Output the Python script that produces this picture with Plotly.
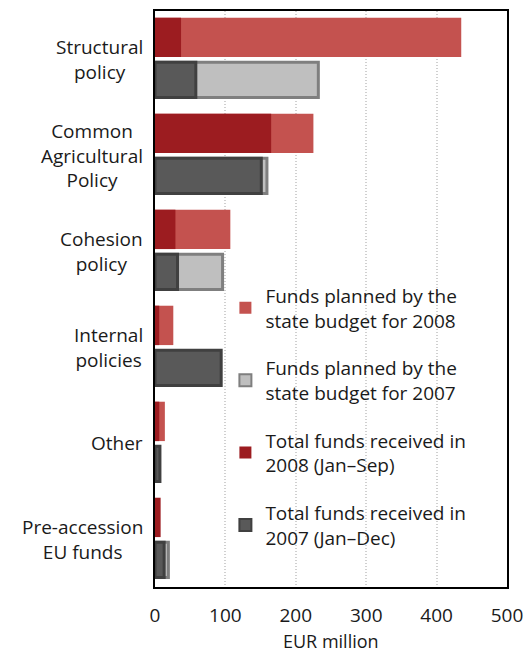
import plotly.graph_objects as go

# EU funds flows by policy area, EUR million
categories = ["Structural policy", "Common Agricultural Policy", "Cohesion policy",
              "Internal policies", "Other", "Pre-accession EU funds"]
category_labels = ["Structural<br>policy", "Common<br>Agricultural<br>Policy", "Cohesion<br>policy",
                   "Internal<br>policies", "Other", "Pre-accession<br>EU funds"]

planned_2008 = [435, 225, 107, 26, 14, 0]
planned_2007 = [232, 159, 96, 0, 0, 19]
received_2008 = [37, 165, 29, 6, 6, 8]
received_2007 = [58, 151, 32, 94, 7, 13]

x_ticks = [0, 100, 200, 300, 400, 500]
x_title = "EUR million"

FONT = "Open Sans"
FS = 19
TEXT = "#1a1a1a"
RED_LIGHT = "#C4524F"
RED_DARK = "#9C1C20"
GREY_LIGHT = "#BFBFBF"
GREY_LIGHT_LINE = "#7F7F7F"
GREY_DARK = "#595959"
GREY_DARK_LINE = "#404040"

# row layout inside each category slot: 2008 on top, 2007 below
OFF_2008, W_2008 = -0.43, 0.41
OFF_2007, W_2007 = 0.035, 0.365

fig = go.Figure()

fig.add_trace(go.Bar(
    y=categories, x=planned_2008, orientation="h",
    name="Funds planned by the<br>state budget for 2008",
    marker=dict(color=RED_LIGHT, line=dict(width=0)),
    offset=OFF_2008, width=W_2008, legendgroup="a",
))
fig.add_trace(go.Bar(
    y=categories, x=planned_2007, orientation="h",
    name="Funds planned by the<br>state budget for 2007",
    marker=dict(color=GREY_LIGHT, line=dict(color=GREY_LIGHT_LINE, width=3)),
    offset=OFF_2007, width=W_2007, legendgroup="b",
))
fig.add_trace(go.Bar(
    y=categories, x=received_2008, orientation="h",
    name="Total funds received in<br>2008 (Jan\u2013Sep)",
    marker=dict(color=RED_DARK, line=dict(width=0)),
    offset=OFF_2008, width=W_2008, legendgroup="c",
))
fig.add_trace(go.Bar(
    y=categories, x=received_2007, orientation="h",
    name="Total funds received in<br>2007 (Jan\u2013Dec)",
    marker=dict(color=GREY_DARK, line=dict(color=GREY_DARK_LINE, width=3)),
    offset=OFF_2007, width=W_2007, legendgroup="d",
))

# category labels: block right-aligned next to the axis, lines centred
for cat, label in zip(categories, category_labels):
    fig.add_annotation(
        x=-0.028, xref="paper", y=cat, yref="y",
        text=label, showarrow=False, xanchor="right", yanchor="middle",
        align="center", font=dict(family=FONT, size=FS, color=TEXT),
    )

# x-axis title below the tick labels
fig.add_annotation(
    x=0.5, xref="paper", y=-0.094, yref="paper",
    text=x_title, showarrow=False, xanchor="center", yanchor="middle",
    font=dict(family=FONT, size=18, color=TEXT),
)

fig.update_layout(
    width=532, height=655,
    margin=dict(l=155, r=25, t=11, b=68, autoexpand=False),
    barmode="overlay",
    plot_bgcolor="white", paper_bgcolor="white",
    font=dict(family=FONT, size=FS, color=TEXT),
    showlegend=True,
    legend=dict(
        x=0.20, y=0.539, xanchor="left", yanchor="top",
        traceorder="grouped", tracegroupgap=20,
        bgcolor="rgba(0,0,0,0)", font=dict(family=FONT, size=FS, color=TEXT),
        itemsizing="constant",
    ),
    xaxis=dict(
        range=[0, 500], tickvals=x_ticks, ticktext=[str(v) for v in x_ticks],
        showgrid=True, gridcolor="#d0d0d0", griddash="1px,2px", gridwidth=1.5,
        showline=True, linecolor="black", linewidth=2, mirror=True,
        ticks="", ticklabelstandoff=10, zeroline=False, automargin=False,
    ),
    yaxis=dict(
        categoryorder="array", categoryarray=categories,
        range=[5.5, -0.5], showticklabels=False, ticks="",
        showline=True, linecolor="black", linewidth=2, mirror=True,
        showgrid=False, zeroline=False, automargin=False,
    ),
)

fig.write_html("out.html")
